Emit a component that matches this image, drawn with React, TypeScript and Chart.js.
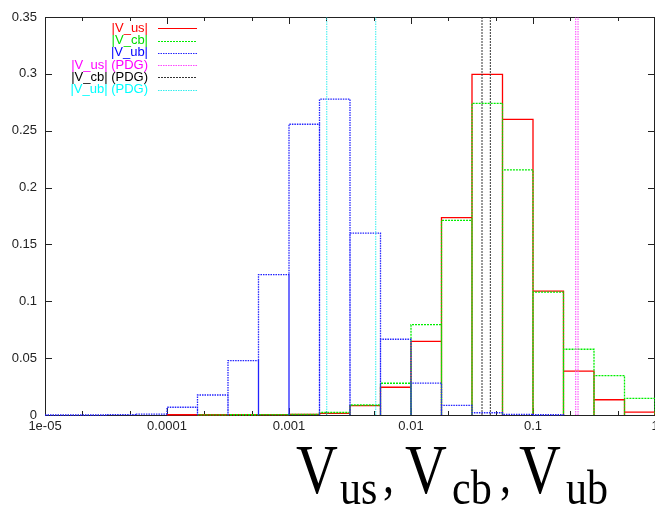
import React, { useEffect, useRef } from "react";
import { Chart, registerables } from "chart.js";

Chart.register(...registerables);

// Histogram bin edges (quarter-decade log bins from 1e-5 to 1)
const binEdges = [
  1e-5, 1.778e-5, 3.162e-5, 5.623e-5,
  1e-4, 1.778e-4, 3.162e-4, 5.623e-4,
  1e-3, 1.778e-3, 3.162e-3, 5.623e-3,
  1e-2, 1.778e-2, 3.162e-2, 5.623e-2,
  0.1, 0.1778, 0.3162, 0.5623, 1,
];

// Bin contents per series (null = not drawn)
const vusValues = [null, null, null, null, 0.0002, 0.0002, 0.0003, 0.0004, 0.0006, 0.0015, 0.0082, 0.0244, 0.0648, 0.1735, 0.2996, 0.26, 0.109, 0.0385, 0.0134, 0.0026];
const vcbValues = [null, null, null, null, null, 0.0001, 0.0002, 0.0003, 0.0006, 0.0022, 0.0088, 0.0279, 0.0794, 0.1712, 0.2741, 0.2155, 0.108, 0.0578, 0.0346, 0.0147];
const vubValues = [0, 0, 0.0003, 0.0008, 0.0068, 0.0176, 0.0478, 0.1234, 0.2557, 0.2777, 0.16, 0.0666, 0.028, 0.0085, 0.002, 0.0006, 0.0002, null, null, null];

// PDG reference values (vertical lines)
const vusPDG = [0.224, 0.234];
const vcbPDG = [0.0382, 0.0447];
const vubPDG = [0.00204, 0.00514];

const yMax = 0.35;
const yTicks = [0, 0.05, 0.1, 0.15, 0.2, 0.25, 0.3, 0.35];
const yTickLabels = ["0", "0.05", "0.1", "0.15", "0.2", "0.25", "0.3", "0.35"];
const xTicks = [1e-5, 1e-4, 1e-3, 1e-2, 0.1, 1];
const xTickLabels = ["1e-05", "0.0001", "0.001", "0.01", "0.1", "1"];
const xMinorTicks = [2e-5, 5e-5, 2e-4, 5e-4, 2e-3, 5e-3, 2e-2, 5e-2, 0.2, 0.5];

const legendLabels = ["|V_us|", "|V_cb|", "|V_ub|", "|V_us| (PDG)", "|V_cb| (PDG)", "|V_ub| (PDG)"];
const legendColors = ["#ff0000", "#00dd00", "#0000ff", "#ff00ff", "#000000", "#00ffff"];
const lineColors = ["#ff0000", "#00ee00", "#2222ff", "#ff44ff", "#333333", "#33eeee"];
const lineDashes: number[][] = [[], [2, 1], [1.5, 1], [1.5, 1], [2, 1], [1.5, 1]];

function boxOutline(values: (number | null)[]) {
  const pts: { x: number; y: number | null }[] = [];
  values.forEach((v, k) => {
    if (v === null) return;
    const a = binEdges[k];
    const b = binEdges[k + 1];
    pts.push({ x: a, y: 0 }, { x: a, y: v }, { x: b, y: v }, { x: b, y: 0 });
  });
  return pts;
}

function vLines(xs: number[]) {
  const pts: { x: number; y: number | null }[] = [];
  xs.forEach((x, i) => {
    if (i > 0) pts.push({ x: x, y: null });
    pts.push({ x: x, y: 0 }, { x: x, y: yMax });
  });
  return pts;
}

const FONT = '"Liberation Sans", Arial, sans-serif';

const framePlugin = {
  id: "frame",
  beforeDatasetsDraw(chart: any) {
    const { ctx, chartArea } = chart;
    const { left, right, top, bottom } = chartArea;
    const xs = chart.scales.x;
    const ys = chart.scales.y;
    ctx.save();
    ctx.strokeStyle = "#222";
    ctx.lineWidth = 1;
    ctx.beginPath();
    ctx.moveTo(left + 0.5, top + 0.5);
    ctx.lineTo(left + 0.5, bottom + 0.5);
    ctx.lineTo(right - 0.5, bottom + 0.5);
    ctx.lineTo(right - 0.5, top + 0.5);
    ctx.closePath();
    ctx.stroke();
    ctx.beginPath();
    yTicks.forEach((v) => {
      const y = Math.round(ys.getPixelForValue(v)) + 0.5;
      ctx.moveTo(left, y);
      ctx.lineTo(left + 7, y);
      ctx.moveTo(right, y);
      ctx.lineTo(right - 7, y);
    });
    xTicks.forEach((v) => {
      const x = Math.round(xs.getPixelForValue(v)) + 0.5;
      ctx.moveTo(x, bottom);
      ctx.lineTo(x, bottom - 7);
      ctx.moveTo(x, top);
      ctx.lineTo(x, top + 7);
    });
    xMinorTicks.forEach((v) => {
      const x = Math.round(xs.getPixelForValue(v)) + 0.5;
      ctx.moveTo(x, bottom);
      ctx.lineTo(x, bottom - 4);
      ctx.moveTo(x, top);
      ctx.lineTo(x, top + 4);
    });
    ctx.stroke();
    ctx.restore();
  },
  afterDraw(chart: any) {
    const { ctx } = chart;
    ctx.save();
    ctx.font = "13px " + FONT;
    ctx.textAlign = "right";
    ctx.textBaseline = "middle";
    legendLabels.forEach((lab, i) => {
      const y = 28.3 + 12.25 * i;
      ctx.fillStyle = legendColors[i];
      ctx.fillText(lab, 148, y);
      ctx.strokeStyle = lineColors[i];
      ctx.lineWidth = 1;
      ctx.setLineDash(lineDashes[i]);
      ctx.beginPath();
      ctx.moveTo(158, Math.round(y) + 0.5);
      ctx.lineTo(197, Math.round(y) + 0.5);
      ctx.stroke();
    });
    ctx.restore();
  },
};

function ChartCanvas() {
  const ref = useRef<HTMLCanvasElement | null>(null);
  useEffect(() => {
    if (!ref.current) return;
    const mk = (data: any[], i: number, order: number, width: number) => ({
      data,
      borderColor: lineColors[i],
      borderWidth: width,
      borderDash: lineDashes[i],
      pointRadius: 0,
      tension: 0,
      fill: false,
      spanGaps: false,
      clip: false,
      order,
    });
    const chart = new Chart(ref.current, {
      type: "line",
      data: {
        datasets: [
          mk(boxOutline(vusValues), 0, 6, 1.3),
          mk(boxOutline(vcbValues), 1, 5, 1.3),
          mk(boxOutline(vubValues), 2, 4, 1.3),
          mk(vLines(vusPDG), 3, 3, 1),
          mk(vLines(vcbPDG), 4, 2, 1),
          mk(vLines(vubPDG), 5, 1, 1),
        ] as any,
      },
      options: {
        animation: false,
        responsive: false,
        devicePixelRatio: 1,
        layout: { padding: { top: 17, left: 0, right: 0, bottom: 0 } },
        plugins: { legend: { display: false }, tooltip: { enabled: false } },
        scales: {
          x: {
            type: "logarithmic",
            min: 1e-5,
            max: 1,
            grid: { display: false, drawTicks: false },
            border: { display: false },
            afterBuildTicks: (s: any) => {
              s.ticks = xTicks.map((v) => ({ value: v }));
            },
            afterFit: (s: any) => {
              s.height = 94;
              s.paddingLeft = 0;
              s.paddingRight = 0;
            },
            ticks: {
              autoSkip: false,
              maxRotation: 0,
              padding: 4,
              color: "#222",
              font: { family: FONT, size: 13 },
              callback: (v: any) => {
                const i = xTicks.findIndex((t) => Math.abs(Math.log10(t) - Math.log10(v)) < 1e-6);
                return i >= 0 ? xTickLabels[i] : "";
              },
            },
          },
          y: {
            type: "linear",
            min: 0,
            max: yMax,
            grid: { display: false, drawTicks: false },
            border: { display: false },
            afterBuildTicks: (s: any) => {
              s.ticks = yTicks.map((v) => ({ value: v }));
            },
            afterFit: (s: any) => {
              s.width = 45;
              s.paddingTop = 0;
              s.paddingBottom = 0;
            },
            ticks: {
              padding: 8,
              color: "#222",
              font: { family: FONT, size: 13 },
              callback: (v: any) => {
                const i = yTicks.findIndex((t) => Math.abs(t - v) < 1e-9);
                return i >= 0 ? yTickLabels[i] : "";
              },
            },
          },
        },
      },
      plugins: [framePlugin],
    });
    return () => chart.destroy();
  }, []);
  return <canvas ref={ref} width={655} height={509} style={{ position: "absolute", left: 0, top: 0 }} />;
}

function Txt({ text, size, left, base, sy }: { text: string; size: number; left: number; base: number; sy: number }) {
  const top = base - sy * 0.8375 * size;
  return (
    <span
      style={{
        position: "absolute",
        left,
        top,
        fontFamily: '"Liberation Serif", "Times New Roman", serif',
        fontSize: size,
        lineHeight: size + "px",
        whiteSpace: "pre",
        transform: `scaleY(${sy})`,
        transformOrigin: "0 0",
        color: "#000",
      }}
    >
      {text}
    </span>
  );
}

export default function App() {
  return (
    <div style={{ position: "fixed", left: 0, top: 0, width: 655, height: 509, background: "#fff", overflow: "hidden" }}>
      <ChartCanvas />
      <Txt text="V" size={58} left={296} base={493} sy={1.22} />
      <Txt text="us" size={42} left={340} base={505} sy={1.18} />
      <Txt text="," size={44} left={383} base={493} sy={1.18} />
      <Txt text="V" size={58} left={405} base={493} sy={1.22} />
      <Txt text="cb" size={42} left={452} base={505} sy={1.18} />
      <Txt text="," size={44} left={500} base={493} sy={1.18} />
      <Txt text="V" size={58} left={519} base={493} sy={1.22} />
      <Txt text="ub" size={42} left={566} base={505} sy={1.18} />
    </div>
  );
}
